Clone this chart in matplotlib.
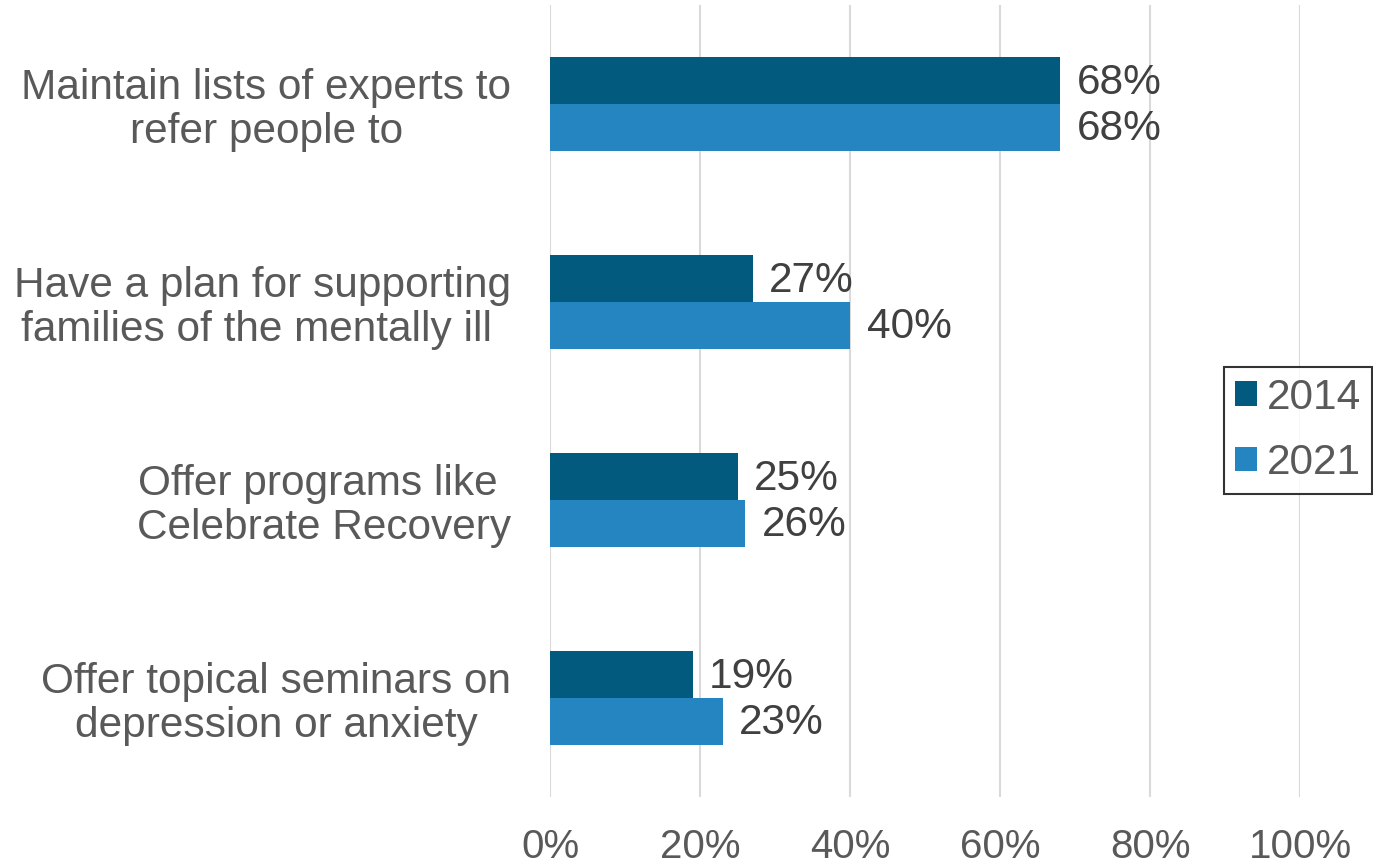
import matplotlib.pyplot as plt
import numpy as np

plt.rcParams['font.family'] = ['Liberation Sans', 'DejaVu Sans']

categories = [
    "Maintain lists of experts to\nrefer people to",
    "Have a plan for supporting\nfamilies of the mentally ill ",
    "Offer programs like \nCelebrate Recovery",
    "Offer topical seminars on\ndepression or anxiety",
]
years = ["2014", "2021"]
vals_2014 = [68, 27, 25, 19]
vals_2021 = [68, 40, 26, 23]
colors = ["#025B7E", "#2585C0"]
xticks = [0, 20, 40, 60, 80, 100]

fig = plt.figure(figsize=(13.73, 8.64), dpi=100)
ax = fig.add_axes([550 / 1373, 1 - 797 / 864, 750 / 1373, 792 / 864])

y = np.arange(len(categories))
h = 0.237
text_col = "#595959"
val_col = "#404040"
fs = 30.5

for i, (vals, yr) in enumerate([(vals_2014, years[0]), (vals_2021, years[1])]):
    pos = y - h / 2 + i * h
    ax.barh(pos, vals, height=h, color=colors[i], label=yr, zorder=2)
    for p, v in zip(pos, vals):
        ax.text(v + 2.2, p + 0.01, f"{v}%", va='center', ha='left', fontsize=fs, color=val_col)

ax.set_ylim(len(categories) - 0.5, -0.5)
ax.set_xlim(0, 100)
ax.set_yticks(y)
ax.set_yticklabels(categories, fontsize=fs, color=text_col, multialignment='center',
                   linespacing=1.12)
ax.tick_params(axis='y', length=0, pad=28)
ax.set_xticks(xticks)
ax.set_xticklabels([f"{t}%" for t in xticks], fontsize=29, color=text_col)
ax.tick_params(axis='x', length=0, pad=22)

ax.grid(axis='x', color='#D9D9D9', linewidth=1.5, zorder=0)
for s in ax.spines.values():
    s.set_visible(False)

leg = fig.legend(loc='upper right', bbox_to_anchor=(1372 / 1373, 1 - 367 / 864),
                 fontsize=fs, frameon=True, fancybox=False, handlelength=0.52, handleheight=0.52,
                 handletextpad=0.24, labelspacing=0.6, borderpad=0.25, borderaxespad=0)
leg.get_frame().set_edgecolor('black')
leg.get_frame().set_linewidth(1.5)
for t in leg.get_texts():
    t.set_color(text_col)

fig.savefig("out.png", dpi=100)
